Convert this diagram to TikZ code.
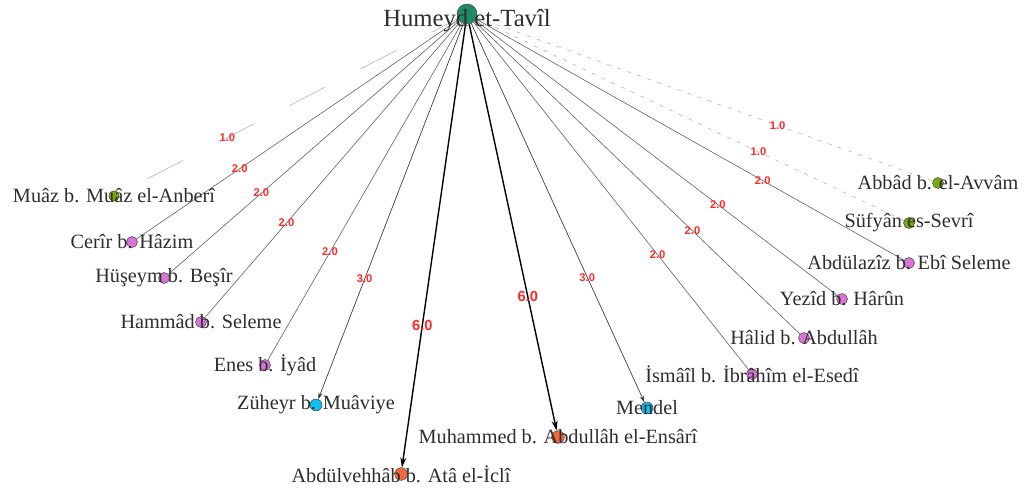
\documentclass[tikz,border=0pt]{standalone}
\usepackage{fontspec}
\setmainfont{Liberation Serif}
\newfontfamily\wfont{Liberation Sans}
\usetikzlibrary{arrows.meta,backgrounds}
\definecolor{hubgreen}{HTML}{1F8A63}
\definecolor{olivegr}{HTML}{7BA80E}
\definecolor{orchidv}{HTML}{D873D8}
\definecolor{skyc}{HTML}{12BDF2}
\definecolor{orangev}{HTML}{F0693C}
\definecolor{wred}{HTML}{FF2A2A}
\begin{document}
\begin{tikzpicture}[x=0.75pt,y=-0.75pt,
  vtx/.style={circle,draw=black!75,line width=0.35pt,inner sep=0pt,minimum size=8.25pt},
  nm/.style={inner sep=0pt,text=black!82,font=\fontsize{15.2}{16}\selectfont},
  hubnm/.style={inner sep=0pt,text=black!82,font=\fontsize{18.5}{19}\selectfont},
  wl/.style={inner sep=0pt,text=wred,font=\wfont\bfseries\fontsize{8.4}{9}\selectfont},
  wlsix/.style={inner sep=0pt,text=wred,font=\wfont\bfseries\fontsize{11}{12}\selectfont},
  eone/.style={draw=black!35,line width=0.35pt,dash pattern=on 3pt off 5pt},
  etwo/.style={draw=black!62,line width=0.45pt},
  ethree/.style={draw=black!78,line width=0.5pt,-{Stealth[length=5pt,width=3.2pt]}},
  esix/.style={draw=black,line width=1.05pt,-{Stealth[length=7.5pt,width=4.5pt]}}]
\useasboundingbox (0,0) rectangle (1030,495);

% vertices
\node[vtx,minimum size=15pt,fill=hubgreen] (hub) at (467,14) {};
\node[vtx,fill=olivegr,minimum size=7.8pt] (n1) at (114,196) {};
\node[vtx,fill=orchidv] (n2) at (132,242) {};
\node[vtx,fill=orchidv] (n3) at (164,278) {};
\node[vtx,fill=orchidv] (n4) at (201,322) {};
\node[vtx,fill=orchidv] (n5) at (265,365) {};
\node[vtx,fill=skyc,minimum size=9pt] (n6) at (316,405) {};
\node[vtx,fill=orangev,minimum size=9.5pt] (n7) at (401,474) {};
\node[vtx,fill=orangev,minimum size=9.5pt] (n8) at (558,437) {};
\node[vtx,fill=skyc,minimum size=9pt] (n9) at (647,408) {};
\node[vtx,fill=orchidv] (n10) at (752,374) {};
\node[vtx,fill=orchidv] (n11) at (804,338) {};
\node[vtx,fill=orchidv] (n12) at (842,299) {};
\node[vtx,fill=orchidv] (n13) at (909,263) {};
\node[vtx,fill=olivegr] (n14) at (909,223) {};
\node[vtx,fill=olivegr] (n15) at (938,183) {};

% edges
\begin{scope}[on background layer]
\fill[white] (0,0) rectangle (1030,495);
\draw[eone,dash pattern=on 30pt off 30pt,dash phase=8pt] (hub) -- node[wl,pos=0.68]{1.0} (n1);
\draw[etwo] (hub) -- node[wl,pos=0.68]{2.0} (n2);
\draw[etwo] (hub) -- node[wl,pos=0.68]{2.0} (n3);
\draw[etwo] (hub) -- node[wl,pos=0.68]{2.0} (n4);
\draw[etwo] (hub) -- node[wl,pos=0.68]{2.0} (n5);
\draw[ethree] (hub) -- node[wl,pos=0.68]{3.0} (n6);
\draw[esix] (hub) -- node[wlsix,pos=0.68]{6.0} (n7);
\draw[esix] (hub) -- node[wlsix,pos=0.67]{6.0} (n8);
\draw[ethree] (hub) -- node[wl,pos=0.67]{3.0} (n9);
\draw[etwo] (hub) -- node[wl,pos=0.67]{2.0} (n10);
\draw[etwo] (hub) -- node[wl,pos=0.67]{2.0} (n11);
\draw[etwo] (hub) -- node[wl,pos=0.67]{2.0} (n12);
\draw[etwo] (hub) -- node[wl,pos=0.67]{2.0} (n13);
\draw[eone] (hub) -- node[wl,pos=0.66]{1.0} (n14);
\draw[eone] (hub) -- node[wl,pos=0.66]{1.0} (n15);
\end{scope}

% names
\node[hubnm] (lh) at ([yshift=-5pt]hub.center) {Humeyd et-Tavîl};
\node[nm] (l1) at (n1.center) {Muâz b. Muâz el-Anberî};
\node[nm] (l2) at (n2.center) {Cerîr b. Hâzim};
\node[nm] (l3) at (n3.center) {Hüşeym b. Beşîr};
\node[nm] (l4) at (n4.center) {Hammâd b. Seleme};
\node[nm] (l5) at (n5.center) {Enes b. İyâd};
\node[nm] (l6) at (n6.center) {Züheyr b. Muâviye};
\node[nm] (l7) at (n7.center) {Abdülvehhâb b. Atâ el-İclî};
\node[nm] (l8) at (n8.center) {Muhammed b. Abdullâh el-Ensârî};
\node[nm] (l9) at (n9.center) {Mendel};
\node[nm] (l10) at (n10.center) {İsmâîl b. İbrâhîm el-Esedî};
\node[nm] (l11) at (n11.center) {Hâlid b. Abdullâh};
\node[nm] (l12) at (n12.center) {Yezîd b. Hârûn};
\node[nm] (l13) at (n13.center) {Abdülazîz b. Ebî Seleme};
\node[nm] (l14) at (n14.center) {Süfyân es-Sevrî};
\node[nm] (l15) at (n15.center) {Abbâd b. el-Avvâm};
\end{tikzpicture}
\end{document}
